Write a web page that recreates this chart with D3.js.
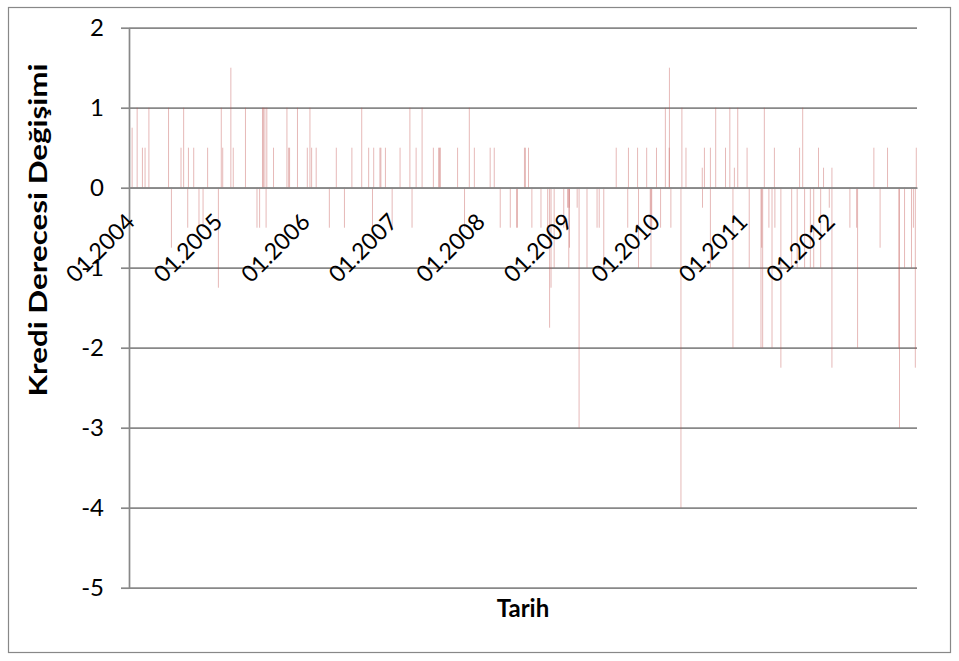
<!DOCTYPE html>
<html><head><meta charset="utf-8">
<script src="https://cdn.jsdelivr.net/npm/d3@7"></script>
<style>
body{margin:0;background:#fff}
svg{display:block}
text{font-family:Lato,"Open Sans",sans-serif}
</style>
</head><body>
<svg id="c" width="959" height="661"></svg>
<script>
const dates = [
"2004-01-14","2004-02-04","2004-02-26","2004-03-08","2004-03-24","2004-06-14","2004-06-26","2004-08-05","2004-08-16","2004-09-02",
"2004-09-05","2004-09-27","2004-10-19","2004-11-05","2004-11-24","2005-01-08","2005-01-20","2005-01-26","2005-03-01","2005-03-11",
"2005-05-01","2005-06-18","2005-06-29","2005-07-11","2005-07-15","2005-07-21","2005-07-26","2005-07-29","2005-08-26","2005-10-21",
"2005-10-28","2005-11-01","2005-12-04","2006-01-14","2006-01-25","2006-02-01","2006-02-20","2006-04-16","2006-05-15","2006-06-18",
"2006-07-19","2006-08-29","2006-09-27","2006-10-13","2006-10-18","2006-11-13","2006-11-17","2006-12-06","2007-01-03","2007-02-05",
"2007-03-18","2007-03-27","2007-04-13","2007-05-08","2007-06-24","2007-07-16","2007-07-20","2007-07-23","2007-10-03","2007-11-01",
"2007-11-21","2007-12-12","2008-02-16","2008-03-04","2008-03-29","2008-05-10","2008-06-05","2008-06-09","2008-07-08","2008-07-12",
"2008-07-25","2008-08-08","2008-09-15","2008-10-13","2008-10-21","2008-10-27","2008-11-09","2008-12-19","2009-01-04","2009-01-09",
"2009-01-10","2009-01-12","2009-02-13","2009-02-21","2009-03-26","2009-05-07","2009-05-16","2009-06-04","2009-07-26","2009-09-12",
"2009-09-15","2009-10-23","2009-10-27","2009-11-30","2009-12-15","2009-12-18","2009-12-21","2010-01-10","2010-01-27","2010-02-16",
"2010-03-04","2010-03-05","2010-03-11","2010-04-22","2010-04-26","2010-05-13","2010-07-20","2010-07-21","2010-07-29","2010-08-23",
"2010-08-23","2010-09-14","2010-10-25","2010-11-12","2010-11-25","2010-12-01","2010-12-15","2011-01-23","2011-02-01","2011-03-22",
"2011-03-25","2011-03-29","2011-04-05","2011-04-24","2011-05-07","2011-05-17","2011-05-19","2011-06-13","2011-07-28","2011-08-20",
"2011-08-30","2011-09-12","2011-09-20","2011-10-14","2011-10-28","2011-11-17","2011-11-26","2011-12-08","2012-01-01","2012-01-12",
"2012-01-12","2012-03-27","2012-04-24","2012-04-28","2012-07-05","2012-07-31","2012-08-31","2012-10-17","2012-10-20","2012-11-10",
"2012-12-09","2012-12-17","2012-12-25","2012-12-29"
];
const changes = [
0.75,1,0.5,0.5,1,1,-0.75,0.5,1,-0.5,
0.5,0.5,-0.5,-0.5,0.5,-1.25,1,0.5,1.5,0.5,
1,-0.5,-0.5,1,1,1,-0.5,1,0.5,1,
0.5,0.5,1,0.5,1,0.5,0.5,-0.5,0.5,-0.5,
0.5,1,0.5,-0.5,0.5,0.5,0.5,0.5,-0.5,0.5,
1,-0.5,0.5,1,0.5,0.5,0.5,0.5,0.5,-0.5,
1,0.5,0.5,0.5,-0.5,-0.5,-0.5,-0.5,0.5,0.5,
0.5,-0.5,-0.5,-0.5,-1.75,-1.25,-1,-0.5,-0.25,-1,
-0.25,-0.75,-0.25,-3,-1,-0.5,-0.5,-1,0.5,-0.5,
0.5,0.5,-1,0.5,-0.5,-1,-0.5,0.5,-0.5,1,
0.5,1.5,-0.5,-4,1,0.5,0.25,-0.25,0.5,0.5,
-1,1,0.5,1,-2,0.25,1,0.5,-1,-2,
-0.75,-2,1,-0.5,-2,0.5,-0.5,-2.25,-1,-1,
0.5,1,-1,-1,-1,0.5,-1,0.25,-0.25,0.25,
-2.25,-0.5,-0.5,-2,0.5,-0.75,0.5,-2,-3,-1,
-1,-0.5,-2.25,0.5
];
const xTickDates = ["2004-01-01","2005-01-01","2006-01-01","2007-01-01","2008-01-01","2009-01-01","2010-01-01","2011-01-01","2012-01-01"];
const xTickLabels = ["01.2004","01.2005","01.2006","01.2007","01.2008","01.2009","01.2010","01.2011","01.2012"];
const yTicks = [-5,-4,-3,-2,-1,0,1,2];
const yTickLabels = ["-5","-4","-3","-2","-1","0","1","2"];
const yTitle = "Kredi Derecesi Değişimi";
const xTitle = "Tarih";

const svg = d3.select("#c");
const parse = d3.timeParse("%Y-%m-%d");
const L = 129, R = 917, T = 27.7, B = 587.7;
const grey = "#888888";

svg.append("rect").attr("x",8.5).attr("y",7.5).attr("width",942).attr("height",645)
  .attr("fill","none").attr("stroke",grey).attr("stroke-width",1.2);

const x = d3.scaleTime().domain([parse("2004-01-01"), parse("2013-01-01")]).range([L, R]);
const y = d3.scaleLinear().domain([-5, 2]).range([B, T]);

// gridlines
const grid = svg.append("g").attr("transform",`translate(${L},0)`)
  .call(d3.axisLeft(y).tickValues(yTicks).tickSize(-(R-L)).tickFormat(""));
grid.select(".domain").remove();
grid.selectAll("line").attr("stroke",grey).attr("stroke-width",1.7);

// bars
const data = dates.map((d,i)=>({date:parse(d), v:changes[i]}));
svg.append("g").selectAll("rect").data(data).enter().append("rect")
  .attr("x", d => x(d.date) - 0.5)
  .attr("width", 1)
  .attr("y", d => Math.min(y(d.v), y(0)))
  .attr("height", d => Math.abs(y(d.v) - y(0)))
  .attr("fill", "#c0504d")
  .attr("fill-opacity", 0.4);

// y axis
const yAx = svg.append("g").attr("transform",`translate(${L},0)`)
  .call(d3.axisLeft(y).tickValues(yTicks).tickSize(8).tickSizeOuter(0).tickPadding(17)
    .tickFormat((d,i)=>yTickLabels[i]));
yAx.select(".domain").attr("stroke",grey).attr("stroke-width",1.7);
yAx.selectAll(".tick line").attr("stroke",grey).attr("stroke-width",1.7);
yAx.selectAll("text").attr("font-size",24).attr("fill","#000").attr("font-family","Lato");

// x axis at zero
const xAx = svg.append("g").attr("transform",`translate(0,${y(0)})`)
  .call(d3.axisBottom(x).tickValues(xTickDates.map(parse)).tickSize(0).tickSizeOuter(0)
    .tickFormat((d,i)=>xTickLabels[i]));
xAx.select(".domain").attr("stroke",grey).attr("stroke-width",1.7);
xAx.selectAll("text")
  .attr("x",0).attr("y",0).attr("dy","0.35em")
  .attr("text-anchor","end")
  .attr("transform","translate(1,30) rotate(-45)")
  .attr("font-size",23).attr("fill","#000").attr("font-family","Lato");

// titles
svg.append("text").attr("x",(L+R)/2).attr("y",617).attr("text-anchor","middle")
  .attr("font-size",24).attr("font-weight","bold").attr("fill","#000").text(xTitle);
svg.append("text").attr("transform",`translate(47,230) rotate(-90)`).attr("text-anchor","middle")
  .attr("font-size",25).attr("font-weight","bold").attr("fill","#000")
  .attr("textLength",333).attr("lengthAdjust","spacingAndGlyphs").text(yTitle);
</script>
</body></html>
